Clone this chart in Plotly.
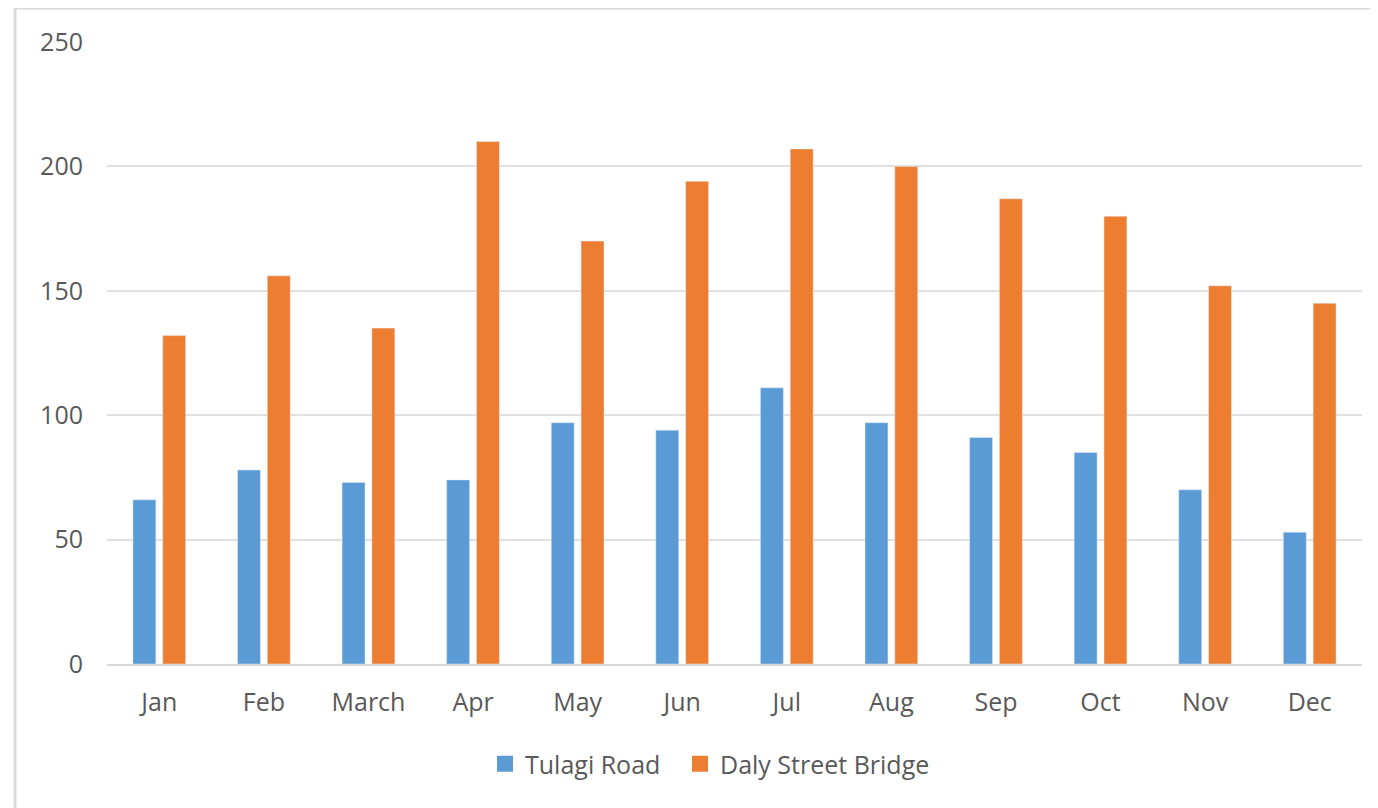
import plotly.graph_objects as go

# data
months = ["Jan", "Feb", "March", "Apr", "May", "Jun", "Jul", "Aug", "Sep", "Oct", "Nov", "Dec"]
tulagi_road = [66, 78, 73, 74, 97, 94, 111, 97, 91, 85, 70, 53]
daly_street_bridge = [132, 156, 135, 210, 170, 194, 207, 200, 187, 180, 152, 145]
y_ticks = [0, 50, 100, 150, 200, 250]

BLUE, ORANGE = "#5B9BD5", "#ED7D31"

# the page body has an 8px margin, so the figure is drawn from (8, 8)
OFF = 8
W, H = 1378 - OFF, 808 - OFF
# plot area in screen pixels
L, R, T, B = 107, 1362, 42, 664

fig = go.Figure()
fig.add_trace(go.Bar(x=months, y=tulagi_road, name="Tulagi Road", marker_color=BLUE, showlegend=False))
fig.add_trace(go.Bar(x=months, y=daly_street_bridge, name="Daly Street Bridge", marker_color=ORANGE, showlegend=False))
# legend entries with bigger square swatches, one legend each so the spacing can be set
fig.add_trace(go.Scatter(x=[None], y=[None], mode="markers", name="Tulagi Road", legend="legend",
                         marker=dict(symbol="square", size=16, color=BLUE)))
fig.add_trace(go.Scatter(x=[None], y=[None], mode="markers", name="Daly Street Bridge", legend="legend2",
                         marker=dict(symbol="square", size=16, color=ORANGE)))

def px(x):
    return (x - L) / (R - L)

def py(y):
    return (B - y) / (B - T)

# light grey frame around the chart
fig.add_shape(type="rect", xref="paper", yref="paper",
              x0=px(15), x1=px(1390), y0=py(8), y1=py(820),
              line=dict(color="#d9d9d9", width=3), layer="below")

leg = dict(orientation="h", xanchor="left", y=py(764), yanchor="middle",
           font=dict(size=25, color="#595959"), itemwidth=30, bgcolor="rgba(0,0,0,0)")

fig.update_layout(
    width=W, height=H,
    margin=dict(l=L - OFF, r=W - (R - OFF), t=T - OFF, b=H - (B - OFF)),
    plot_bgcolor="white", paper_bgcolor="white",
    font=dict(family="Open Sans", size=25, color="#595959"),
    barmode="group", bargap=0.43, bargroupgap=0.23,
    showlegend=True,
    legend=dict(leg, x=px(485)),
    legend2=dict(leg, x=px(680)),
    xaxis=dict(showgrid=False, showline=True, linecolor="#d9d9d9", linewidth=2,
               ticks="", ticklabelstandoff=15),
    yaxis=dict(range=[0, 250], tickvals=y_ticks, showgrid=True, gridcolor="#e0e0e0",
               gridwidth=2, zeroline=False, showline=False, ticks="", ticklabelstandoff=23),
)

fig.write_html("out.html")
